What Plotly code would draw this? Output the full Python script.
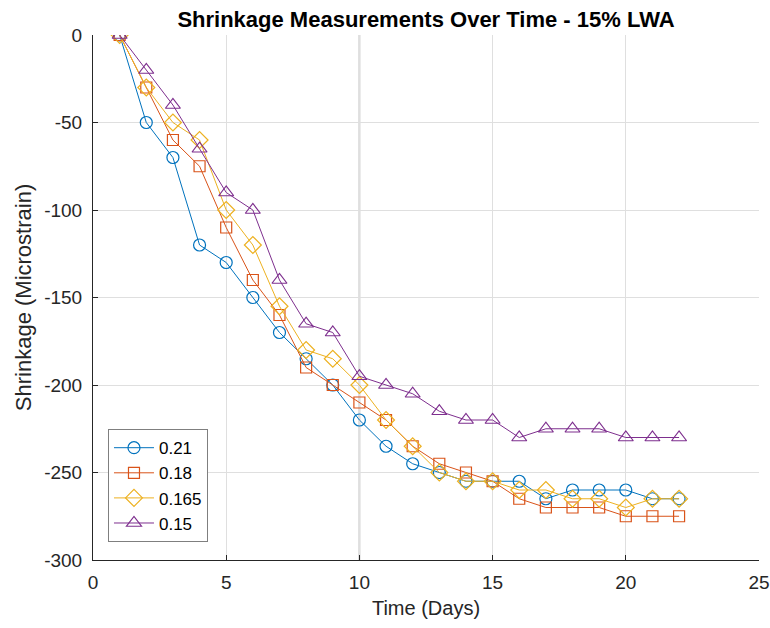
import plotly.graph_objects as go

days = list(range(1, 23))
s_021 = [0, -50, -70, -120, -130, -150, -170, -185, -200, -220, -235, -245,
         -250, -255, -255, -255, -265, -260, -260, -260, -265, -265]
s_018 = [0, -30, -60, -75, -110, -140, -160, -190, -200, -210, -220, -235,
         -245, -250, -255, -265, -270, -270, -270, -275, -275, -275]
s_0165 = [0, -30, -50, -60, -100, -120, -155, -180, -185, -200, -220, -235,
          -250, -255, -255, -260, -260, -265, -265, -270, -265, -265]
s_015 = [0, -20, -40, -65, -90, -100, -140, -165, -170, -195, -200, -205,
         -215, -220, -220, -230, -225, -225, -225, -230, -230, -230]

y_tickvals = [0, -50, -100, -150, -200, -250, -300]
y_ticktext = ["0", "-50", "-100", "-150", "-200", "-250", "-300"]

series = [
    ("0.21", s_021, "#0072BD", "circle-open", 12),
    ("0.18", s_018, "#D95319", "square-open", 11),
    ("0.165", s_0165, "#EDB120", "diamond-open", 13),
    ("0.15", s_015, "#7E2F8E", "triangle-up-open", 13),
]

FONT = "Liberation Sans, Arial, sans-serif"
fig = go.Figure()
for name, vals, color, sym, sz in series:
    fig.add_trace(go.Scatter(
        x=days, y=vals, name=name, mode="lines+markers",
        line=dict(color=color, width=1),
        marker=dict(symbol=sym, size=sz, color=color, line=dict(color=color, width=1.2)),
    ))

fig.add_shape(type="line", xref="x", yref="paper", x0=10, x1=10, y0=0, y1=1,
              line=dict(color="#cdcdcd", width=2), layer="below")

fig.update_layout(
    width=770, height=628,
    margin=dict(l=93, r=11, t=35, b=68, autoexpand=False),
    paper_bgcolor="white", plot_bgcolor="white",
    font=dict(family=FONT, size=19, color="#262626"),
    title=dict(text="<b>Shrinkage Measurements Over Time - 15% LWA</b>",
               x=0.5, xref="paper", xanchor="center", y=0.97, yanchor="middle",
               font=dict(family=FONT, size=22, color="#000000")),
    showlegend=True,
    legend=dict(x=0.0225, y=0.034, xanchor="left", yanchor="bottom",
                bgcolor="white", bordercolor="#7f7f7f", borderwidth=1,
                font=dict(family=FONT, size=17, color="#000000"),
                tracegroupgap=0, itemwidth=40),
)
fig.update_xaxes(
    range=[0, 25], dtick=5, tick0=0, automargin=False,
    showgrid=True, gridcolor="#dfdfdf", gridwidth=1,
    showline=True, linecolor="#262626", linewidth=1,
    ticks="inside", ticklen=5, tickcolor="#262626",
    zeroline=False, mirror=False, ticklabelstandoff=5,
    title=dict(text="Time (Days)", font=dict(family=FONT, size=20, color="#262626"), standoff=9),
)
fig.update_yaxes(
    range=[-300, 0], tickmode="array", tickvals=y_tickvals, ticktext=y_ticktext,
    automargin=False,
    showgrid=True, gridcolor="#dfdfdf", gridwidth=1,
    showline=True, linecolor="#262626", linewidth=1,
    ticks="inside", ticklen=5, tickcolor="#262626",
    zeroline=False, mirror=False, ticklabelstandoff=6,
    title=dict(text="Shrinkage (Microstrain)", font=dict(family=FONT, size=22, color="#262626"), standoff=6),
)

fig.write_html("out.html")
